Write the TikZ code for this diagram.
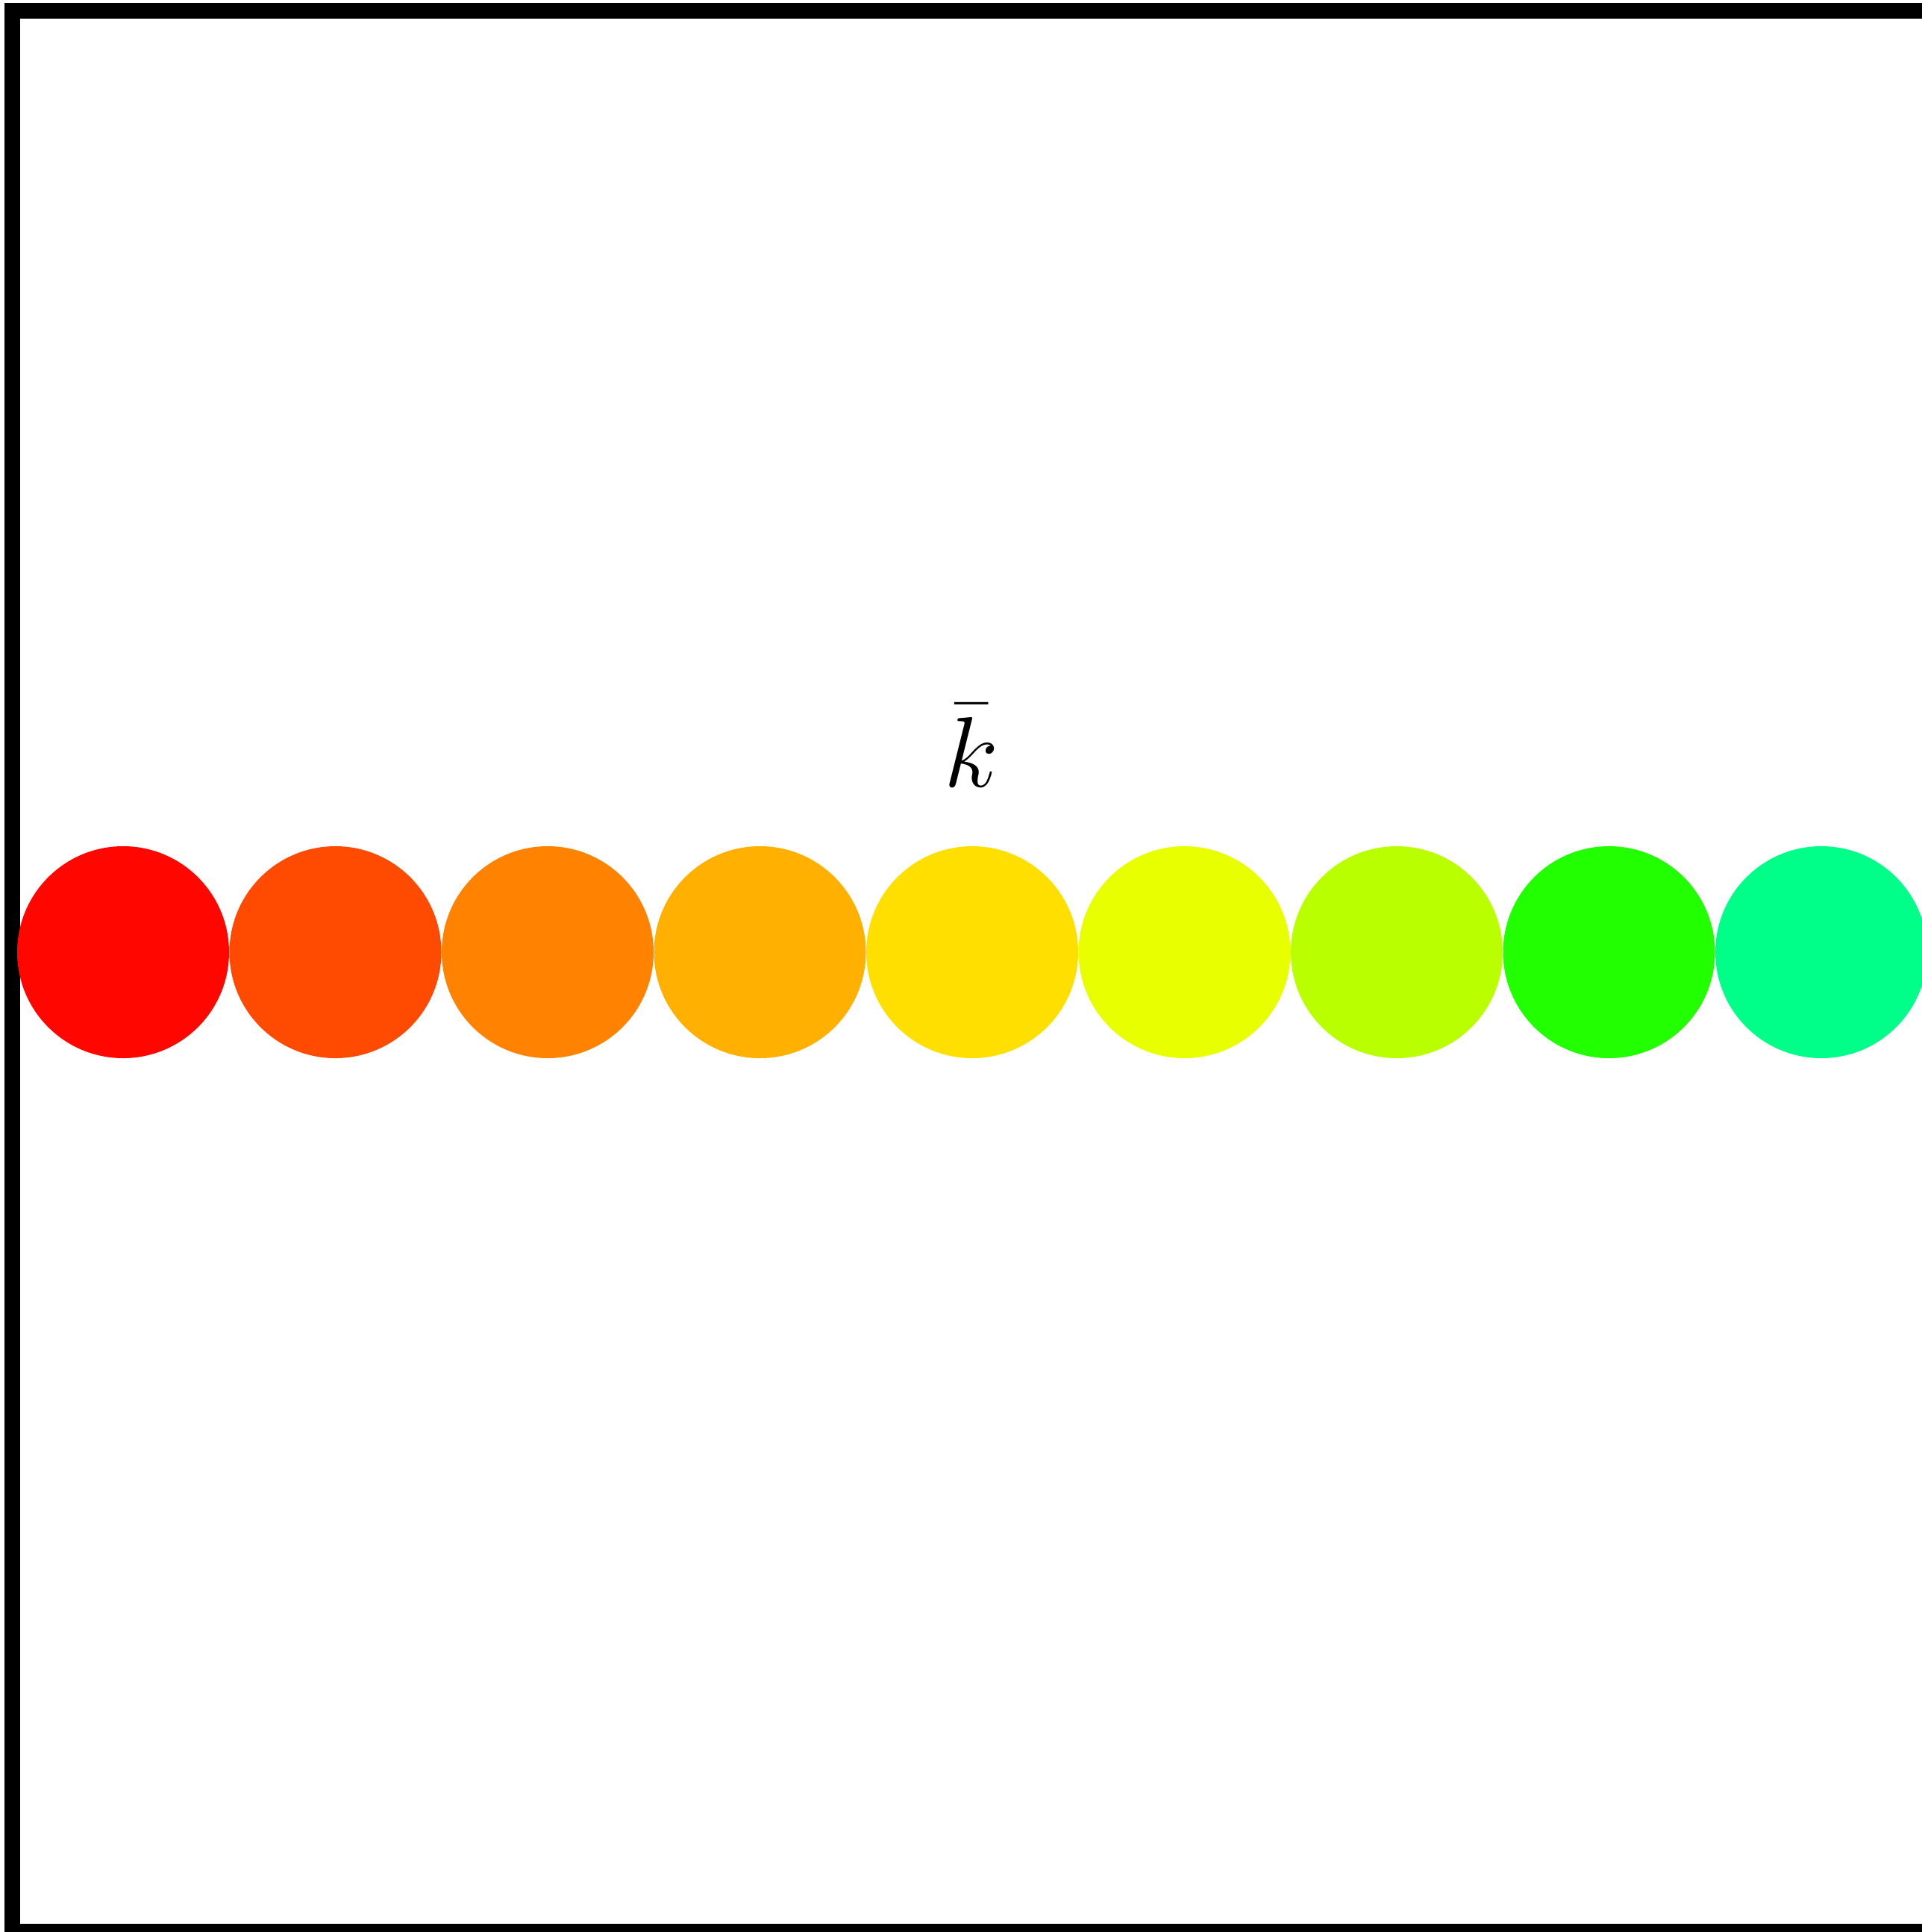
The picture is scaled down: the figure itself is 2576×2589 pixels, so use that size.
\documentclass[tikz,border=0pt]{standalone}
\usepackage{graphicx}
\usepackage{tikz}
\definecolor{cA}{RGB}{255,7,0}
\definecolor{cB}{RGB}{255,74,2}
\definecolor{cC}{RGB}{255,130,0}
\definecolor{cD}{RGB}{255,176,0}
\definecolor{cE}{RGB}{255,223,0}
\definecolor{cF}{RGB}{232,255,0}
\definecolor{cG}{RGB}{185,255,0}
\definecolor{cH}{RGB}{34,255,0}
\definecolor{cI}{RGB}{0,255,136}
\tikzset{
  ball/.style={circle, inner sep=0pt, minimum size=71pt, draw=none},
  frameline/.style={line width=5.25pt, line join=miter},
}
\begin{document}
\begin{tikzpicture}[x=0.25pt, y=-0.25pt]
\useasboundingbox (0,0) rectangle (2576,2589);
\clip (0,0) rectangle (2576,2589);
\draw[frameline] (2700,14.5) -- (16.5,14.5) -- (16.5,2588.5) -- (2700,2588.5);
\foreach \i/\c in {1/cA,2/cB,3/cC,4/cD,5/cE,6/cF,7/cG,8/cH,9/cI}{
  \node[ball, fill=\c] (c\i) at ({165+(\i-1)*284.5},1276) {};
}
\node[anchor=base, inner sep=0pt] (klabel) at (1302,1054) {\scalebox{1.3465}{\fontsize{24.88}{30}\selectfont $\bar{k}$}};
\end{tikzpicture}
\end{document}
